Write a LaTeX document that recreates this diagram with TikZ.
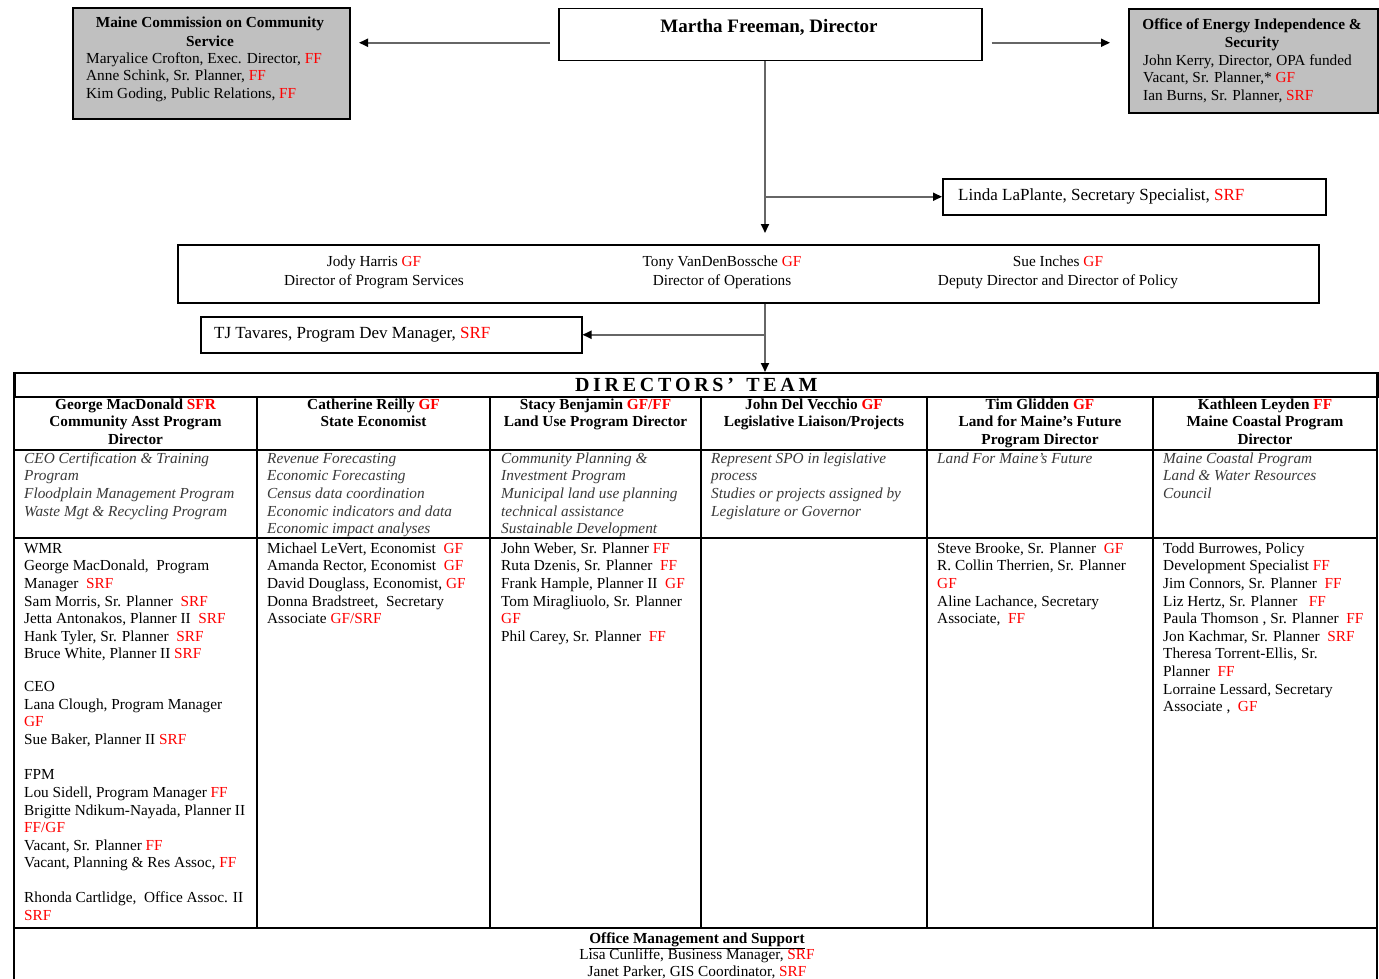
\documentclass[tikz,border=0pt]{standalone}
\usepackage{fontspec}
\setmainfont{Liberation Serif}
\usetikzlibrary{arrows.meta,calc}
\definecolor{boxgray}{HTML}{C0C0C0}
\definecolor{desccol}{HTML}{3A3A3A}
\newcommand\rt[1]{\textcolor{red}{#1}}
\newcommand\fsn{\fontsize{15.3}{17.6}\selectfont}
\newcommand\teamtitle{D\kern3.7pt I\kern3.7pt R\kern3.7pt E\kern3.7pt C\kern3.7pt T\kern3.7pt O\kern3.7pt R\kern3.7pt S\kern3.7pt '\kern3.7pt\ \kern3.7pt T\kern3.7pt E\kern3.7pt A\kern3.7pt M}
\begin{document}
\begin{tikzpicture}[x=1pt,y=-1pt,
  box/.style={draw=black, line width=1.5pt, inner sep=0pt, anchor=north west},
  graybox/.style={box, fill=boxgray, line width=2pt},
  txt/.style={inner sep=0pt, font=\fsn, align=left, anchor=north west},
  ctxt/.style={inner sep=0pt, font=\fsn, align=center, anchor=north},
  hdr/.style={ctxt, font=\fsn\bfseries},
  dsc/.style={txt, font=\fsn\itshape, text=desccol},
  arr/.style={draw=black!60, line width=1.8pt, -{Triangle[length=9pt,width=8pt,color=black]}},
  tbl/.style={line width=1.6pt}]
\fill[white] (0,0) rectangle (1379,979);
\useasboundingbox (0,0) rectangle (1379,979);

% top boxes
\node[graybox, minimum width=277pt, minimum height=111pt] (mccs) at (72,7) {};
\node[box, minimum width=423pt, minimum height=52pt] (martha) at (558,8) {};
\node[graybox, minimum width=249pt, minimum height=104pt] (oeis) at (1128,8) {};
\node[box, minimum width=383pt, minimum height=36pt] (linda) at (942,178) {};
\node[box, minimum width=1141pt, minimum height=58pt] (dirs) at (177,244) {};
\node[box, minimum width=381pt, minimum height=36pt] (tj) at (200,316) {};

% texts in top boxes
\node[ctxt, font=\fontsize{15.3}{19}\selectfont\bfseries] (mccsT) at (210,13.7) {\strut Maine Commission on Community\\Service};
\node[txt, font=\fontsize{15.3}{17.5}\selectfont] (mccsL) at (86,50.7) {\strut Maryalice Crofton, Exec. Director, \rt{FF}\\Anne Schink, Sr. Planner, \rt{FF}\\Kim Goding, Public Relations, \rt{FF}};
\node[ctxt, font=\fontsize{15.3}{18}\selectfont\bfseries] (oeisT) at (1252,16.4) {\strut Office of Energy Independence \&\\Security};
\node[txt, font=\fontsize{15.3}{17.5}\selectfont] (oeisL) at (1143,52.7) {\strut John Kerry, Director, OPA funded\\Vacant, Sr. Planner,* \rt{GF}\\Ian Burns, Sr. Planner, \rt{SRF}};
\node[inner sep=0pt, anchor=base, font=\fontsize{19}{22}\selectfont\bfseries] (marthaT) at (769,32.3) {Martha Freeman, Director};
\node[inner sep=0pt, anchor=base west, font=\fontsize{17}{20}\selectfont] (lindaT) at (958,200.6) {Linda LaPlante, Secretary Specialist, \rt{SRF}};
\node[inner sep=0pt, anchor=base west, font=\fontsize{17}{20}\selectfont] (tjT) at (214,338.6) {TJ Tavares, Program Dev Manager, \rt{SRF}};
\node[ctxt, font=\fontsize{15.3}{19}\selectfont] (jody) at (374,252.7) {\strut Jody Harris \rt{GF}\\Director of Program Services};
\node[ctxt, font=\fontsize{15.3}{19}\selectfont] (tony) at (722,252.7) {\strut Tony VanDenBossche \rt{GF}\\Director of Operations};
\node[ctxt, font=\fontsize{15.3}{19}\selectfont] (sue) at (1058,252.7) {\strut Sue Inches \rt{GF}\\Deputy Director and Director of Policy};

% table
\node[draw, tbl, minimum width=1363pt, minimum height=24pt, inner sep=0pt, anchor=north west, font=\fontsize{20}{24}\selectfont\bfseries] (teamrow) at (14,372) {\teamtitle};
\draw[tbl] (14,372) -- (14,979);
\draw[tbl] (1377,372) -- (1377,979);
\foreach \yy in {450,538,928} {\draw[tbl] (14,\yy) -- (1377,\yy);}
\foreach \xx in {257,490,701,927,1153} {\draw[tbl] (\xx,396) -- (\xx,928);}

% headers
\node[hdr] (h1) at (135.5,396.7) {\strut George MacDonald \rt{SFR}\\Community Asst Program\\Director};
\node[hdr] (h2) at (373.5,396.7) {\strut Catherine Reilly \rt{GF}\\State Economist};
\node[hdr] (h3) at (595.5,396.7) {\strut Stacy Benjamin \rt{GF/FF}\\Land Use Program Director};
\node[hdr] (h4) at (814,396.7) {\strut John Del Vecchio \rt{GF}\\Legislative Liaison/Projects};
\node[hdr] (h5) at (1040,396.7) {\strut Tim Glidden \rt{GF}\\Land for Maine's Future\\Program Director};
\node[hdr] (h6) at (1265,396.7) {\strut Kathleen Leyden \rt{FF}\\Maine Coastal Program\\Director};

% descriptions
\node[dsc] (d1) at (24,450.7) {\strut CEO Certification \& Training\\Program\\Floodplain Management Program\\Waste Mgt \& Recycling Program};
\node[dsc] (d2) at (267,450.7) {\strut Revenue Forecasting\\Economic Forecasting\\Census data coordination\\Economic indicators and data\\Economic impact analyses};
\node[dsc] (d3) at (501,450.7) {\strut Community Planning \&\\Investment Program\\Municipal land use planning\\technical assistance\\Sustainable Development};
\node[dsc] (d4) at (711,450.7) {\strut Represent SPO in legislative\\process\\Studies or projects assigned by\\Legislature or Governor};
\node[dsc] (d5) at (937,450.7) {\strut Land For Maine's Future};
\node[dsc] (d6) at (1163,450.7) {\strut Maine Coastal Program\\Land \& Water Resources\\Council};

% staff
\node[txt] (s1) at (24,540.7) {\strut WMR\\George MacDonald,~ Program\\Manager~ \rt{SRF}\\Sam Morris, Sr. Planner~ \rt{SRF}\\Jetta Antonakos, Planner II~ \rt{SRF}\\Hank Tyler, Sr. Planner~ \rt{SRF}\\Bruce White, Planner II \rt{SRF}\\[15pt]CEO\\Lana Clough, Program Manager\\\rt{GF}\\Sue Baker, Planner II \rt{SRF}\\[18pt]FPM\\Lou Sidell, Program Manager \rt{FF}\\Brigitte Ndikum-Nayada, Planner II\\\rt{FF/GF}\\Vacant, Sr. Planner \rt{FF}\\Vacant, Planning \& Res Assoc, \rt{FF}\\[17pt]Rhonda Cartlidge,~ Office Assoc. II\\\rt{SRF}};
\node[txt] (s2) at (267,540.7) {\strut Michael LeVert, Economist~ \rt{GF}\\Amanda Rector, Economist~ \rt{GF}\\David Douglass, Economist, \rt{GF}\\Donna Bradstreet,~ Secretary\\Associate \rt{GF/SRF}};
\node[txt] (s3) at (501,540.7) {\strut John Weber, Sr. Planner \rt{FF}\\Ruta Dzenis, Sr. Planner~ \rt{FF}\\Frank Hample, Planner II~ \rt{GF}\\Tom Miragliuolo, Sr. Planner\\\rt{GF}\\Phil Carey, Sr. Planner~ \rt{FF}};
\node[txt] (s5) at (937,540.7) {\strut Steve Brooke, Sr. Planner~ \rt{GF}\\R. Collin Therrien, Sr. Planner\\\rt{GF}\\Aline Lachance, Secretary\\Associate,~ \rt{FF}};
\node[txt] (s6) at (1163,540.7) {\strut Todd Burrowes, Policy\\Development Specialist \rt{FF}\\Jim Connors, Sr. Planner~ \rt{FF}\\Liz Hertz, Sr. Planner~~ \rt{FF}\\Paula Thomson , Sr. Planner~ \rt{FF}\\Jon Kachmar, Sr. Planner~ \rt{SRF}\\Theresa Torrent-Ellis, Sr.\\Planner~ \rt{FF}\\Lorraine Lessard, Secretary\\Associate ,~ \rt{GF}};

% office management
\node[ctxt, font=\fontsize{15.3}{16.5}\selectfont] (office) at (697,931.5) {\strut\textbf{\underline{Office Management and Support}}\\Lisa Cunliffe, Business Manager, \rt{SRF}\\Janet Parker, GIS Coordinator, \rt{SRF}};

% connectors
\coordinate (spine) at (765,0);
\draw[arr] ($(martha.west)+(-8,8)$) -- ($(mccs.east |- martha.west)+(8,8)$);
\draw[arr] ($(martha.east)+(9,8)$) -- ($(oeis.west |- martha.east)+(-18,8)$);
\draw[arr] (martha.south -| spine) -- ($(dirs.north -| spine)+(0,-11)$);
\draw[arr] (spine |- linda.west) -- (linda.west);
\draw[arr] (dirs.south -| spine) -- (teamrow.north -| spine);
\draw[arr] (spine |- tj.east) -- (tj.east);
\end{tikzpicture}
\end{document}
